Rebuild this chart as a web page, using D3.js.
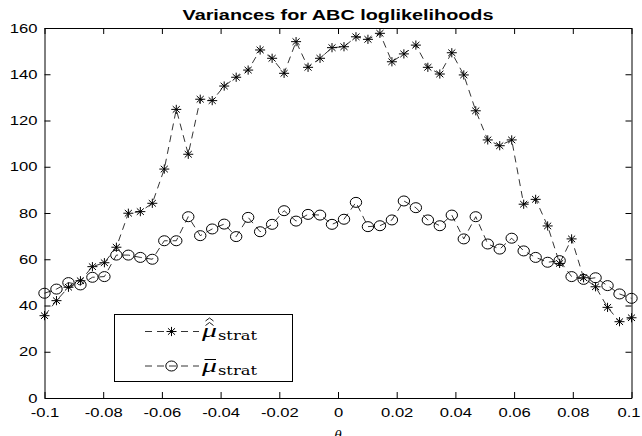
<!DOCTYPE html>
<html>
<head>
<meta charset="utf-8">
<script src="https://cdn.jsdelivr.net/npm/d3@7"></script>
<style>
  html, body { margin: 0; padding: 0; background: #fff; }
  svg { display: block; }
</style>
</head>
<body>
<script>
var width = 642
var height = 436

// theta grid: 50 points from -0.1 to 0.1
var nPoints = 50
var thetaMin = -0.1
var thetaMax = 0.1

// variances
var hatVals = [35.6, 42.1, 47.9, 50.7, 56.8, 58.5, 65.2, 79.9, 80.6, 84.2,
  99.0, 124.8, 105.4, 129.2, 128.6, 134.9, 138.7, 141.8, 150.5, 146.9,
  140.4, 154.1, 143.0, 146.9, 151.5, 151.9, 156.2, 155.1, 157.7, 145.4,
  148.8, 152.6, 143.0, 140.1, 149.3, 139.7, 124.2, 111.6, 109.1, 111.6,
  83.8, 85.9, 74.4, 58.2, 68.8, 52.0, 48.1, 39.2, 33.0, 34.7]

var barVals = [45.3, 47.1, 49.9, 48.9, 52.2, 52.5, 61.8, 61.8, 60.8, 60.0,
  68.0, 68.0, 78.4, 70.2, 73.1, 75.2, 69.8, 78.1, 71.9, 75.1,
  81.0, 76.5, 79.4, 79.1, 75.1, 77.3, 84.6, 74.1, 74.5, 77.0,
  85.2, 82.3, 77.0, 74.5, 79.1, 68.8, 78.4, 66.6, 64.4, 69.1,
  63.6, 60.8, 58.7, 59.4, 52.5, 51.3, 52.0, 48.6, 45.0, 43.1]

var xTicks = [-0.1, -0.08, -0.06, -0.04, -0.02, 0, 0.02, 0.04, 0.06, 0.08, 0.1]
var xTickLabels = ["-0.1", "-0.08", "-0.06", "-0.04", "-0.02", "0", "0.02", "0.04", "0.06", "0.08", "0.1"]
var yTicks = [0, 20, 40, 60, 80, 100, 120, 140, 160]
var yTickLabels = ["0", "20", "40", "60", "80", "100", "120", "140", "160"]

var titleText = "Variances for ABC loglikelihoods"

var theta = d3.range(nPoints).map(i => thetaMin + i * (thetaMax - thetaMin) / (nPoints - 1))

var plot = { left: 44.5, right: 631.5, top: 28, bottom: 398 }
var stretch = 1.33 // the picture is wider than it is tall, text included

const x = d3.scaleLinear().domain([thetaMin, thetaMax]).range([plot.left, plot.right])
const y = d3.scaleLinear().domain([0, 160]).range([plot.bottom, plot.top])

const svg = d3.select("body").append("svg")
  .attr("width", width).attr("height", height)
  .attr("viewBox", [0, 0, width, height])

const font = "'Liberation Sans', Arial, Helvetica, sans-serif"
const serif = "'DejaVu Serif', 'Liberation Serif', serif"

// axes, ticks pointing inward on all four sides
function styleAxis(g) {
  g.selectAll("path.domain").attr("stroke", "#000").attr("stroke-width", 1)
  g.selectAll(".tick line").attr("stroke", "#000").attr("stroke-width", 1)
  g.selectAll("text").attr("fill", "#000").attr("font-family", font).attr("font-size", 12.5)
}

svg.append("g")
  .attr("transform", `translate(0,${plot.bottom})`)
  .call(d3.axisBottom(x).tickValues(xTicks).tickFormat((d, i) => xTickLabels[i])
    .tickSize(-6).tickSizeOuter(0).tickPadding(10))
  .call(styleAxis)
  .call(g => g.selectAll("text")
    .attr("transform", (d, i) => `translate(${i === xTicks.length - 1 ? -3 : 0},0) scale(${stretch},1)`))

svg.append("g")
  .attr("transform", `translate(0,${plot.top})`)
  .call(d3.axisTop(x).tickValues(xTicks).tickFormat("").tickSize(-6).tickSizeOuter(0))
  .call(styleAxis)

svg.append("g")
  .attr("transform", `translate(${plot.left},0)`)
  .call(d3.axisLeft(y).tickValues(yTicks).tickFormat((d, i) => yTickLabels[i])
    .tickSize(-6).tickSizeOuter(0).tickPadding(5.3))
  .call(styleAxis)
  .call(g => g.selectAll("text").attr("transform", `scale(${stretch},1)`))

svg.append("g")
  .attr("transform", `translate(${plot.right},0)`)
  .call(d3.axisRight(y).tickValues(yTicks).tickFormat("").tickSize(-6).tickSizeOuter(0))
  .call(styleAxis)

// title
svg.append("text")
  .attr("x", (plot.left + plot.right) / 2 - 155.5)
  .attr("y", 19.5)
  .attr("font-family", font)
  .attr("font-weight", "bold")
  .attr("font-size", 14.5)
  .attr("textLength", 311)
  .attr("lengthAdjust", "spacingAndGlyphs")
  .text(titleText)

// x label, cut by the bottom edge as in the picture
svg.append("text")
  .attr("x", (plot.left + plot.right) / 2)
  .attr("y", 440)
  .attr("text-anchor", "middle")
  .attr("font-family", "'Liberation Serif', 'DejaVu Serif', serif")
  .attr("font-style", "italic")
  .attr("font-size", 15)
  .text("θ")

// markers
function starPath(cx, cy, rx, ry) {
  const d = []
  for (const a of [0, 45, 90, 135]) {
    const t = a * Math.PI / 180
    const dx = Math.cos(t) * rx, dy = Math.sin(t) * ry
    d.push(`M${cx - dx},${cy - dy}L${cx + dx},${cy + dy}`)
  }
  return d.join("")
}

const line = d3.line().x((d, i) => x(theta[i])).y(d => y(d))

const series = [
  { name: "hat", values: hatVals, marker: "star" },
  { name: "bar", values: barVals, marker: "circle" }
]

svg.append("g").selectAll("path")
  .data(series)
  .join("path")
  .attr("d", d => line(d.values))
  .attr("fill", "none")
  .attr("stroke", "#000")
  .attr("stroke-width", 0.8)
  .attr("stroke-dasharray", "7,5")

svg.append("g").selectAll("path")
  .data(hatVals)
  .join("path")
  .attr("d", (d, i) => starPath(x(theta[i]), y(d), 5, 4.6))
  .attr("stroke", "#000")
  .attr("stroke-width", 1)

svg.append("g").selectAll("ellipse")
  .data(barVals)
  .join("ellipse")
  .attr("cx", (d, i) => x(theta[i]))
  .attr("cy", d => y(d))
  .attr("rx", 5.7)
  .attr("ry", 5)
  .attr("fill", "none")
  .attr("stroke", "#000")
  .attr("stroke-width", 1)

// legend
const legend = svg.append("g")
legend.append("rect")
  .attr("x", 114.5).attr("y", 314.5)
  .attr("width", 178).attr("height", 67)
  .attr("fill", "#fff").attr("stroke", "#000").attr("stroke-width", 1)

const rows = [331.5, 366]

series.forEach((s, k) => {
  const ry = rows[k]
  legend.append("line")
    .attr("x1", 145).attr("x2", 199).attr("y1", ry).attr("y2", ry)
    .attr("stroke", "#000").attr("stroke-width", 0.8)
    .attr("stroke-dasharray", "7,5")
  if (s.marker === "star") {
    legend.append("path").attr("d", starPath(171.5, ry, 5, 4.6))
      .attr("stroke", "#000").attr("stroke-width", 1)
  } else {
    legend.append("ellipse").attr("cx", 171.5).attr("cy", ry).attr("rx", 5.7).attr("ry", 5)
      .attr("fill", "none").attr("stroke", "#000").attr("stroke-width", 1)
  }
  const tb = ry + 5.5
  legend.append("text")
    .attr("x", 202).attr("y", tb)
    .attr("font-family", "'Liberation Serif', serif").attr("font-style", "italic").attr("font-size", 19)
    .attr("textLength", 15).attr("lengthAdjust", "spacingAndGlyphs")
    .text("μ")
  legend.append("text")
    .attr("x", 218).attr("y", tb + 3)
    .attr("font-family", serif).attr("font-size", 12)
    .attr("textLength", 39).attr("lengthAdjust", "spacingAndGlyphs")
    .text("strat")
  if (s.name === "hat") {
    for (const hy of [ry - 13.5, ry - 9]) {
      legend.append("path")
        .attr("d", `M${205.5},${hy + 3}L${209.5},${hy}L${213.5},${hy + 3}`)
        .attr("fill", "none").attr("stroke", "#000").attr("stroke-width", 0.9)
    }
  } else {
    legend.append("line")
      .attr("x1", 204.5).attr("x2", 216).attr("y1", ry - 6.5).attr("y2", ry - 6.5)
      .attr("stroke", "#000").attr("stroke-width", 1)
  }
})
</script>
</body>
</html>
